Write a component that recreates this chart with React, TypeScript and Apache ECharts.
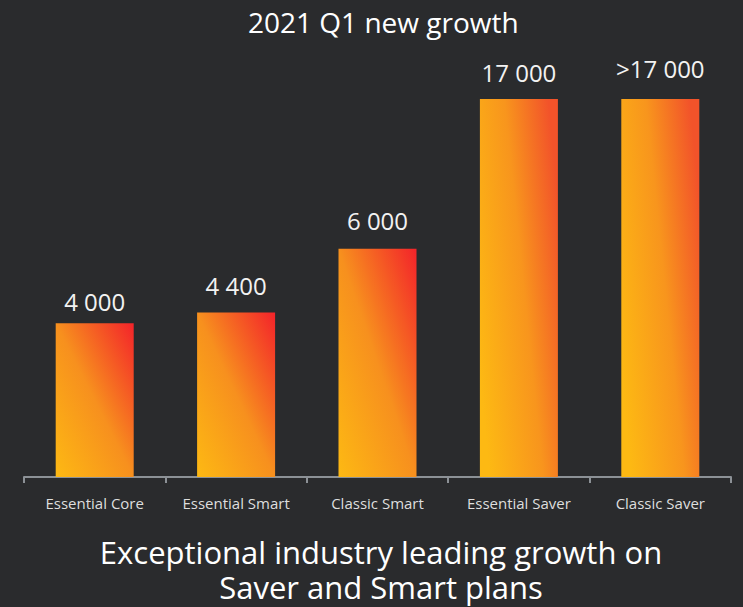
import React, { useEffect, useRef } from "react";
import * as echarts from "echarts";

const categories = ["Essential Core", "Essential Smart", "Classic Smart", "Essential Saver", "Classic Saver"];
// Displayed bar heights (relative, tallest = 100)
const barLevels = [40.7, 43.5, 60.4, 100, 100];
// Value labels shown above the bars
const valueLabels = ["4 000", "4 400", "6 000", "17 000", ">17 000"];
const titleText = "2021 Q1 new growth";
const footerLines = ["Exceptional industry leading growth on", "Saver and Smart plans"];

// style: gap between bar top and its label
const labelGaps = [9.5, 15, 16.5, 15, 18.5];

const FONT = "'Open Sans', 'Noto Sans', sans-serif";

export default function App() {
  const ref = useRef<HTMLDivElement>(null);
  useEffect(() => {
    document.body.style.margin = "0";
    const chart = echarts.init(ref.current!, null, { renderer: "svg" });
    const shortGrad = new echarts.graphic.LinearGradient(0, 1, 1, 0, [
      { offset: 0, color: "#fdb913" },
      { offset: 0.5, color: "#f7901e" },
      { offset: 1, color: "#f3232a" },
    ]);
    const tallGrad = new echarts.graphic.LinearGradient(0, 0.75, 1, 0.25, [
      { offset: 0, color: "#fdb913" },
      { offset: 0.55, color: "#f8951d" },
      { offset: 1, color: "#f2532a" },
    ]);
    chart.setOption({
      animation: false,
      backgroundColor: "#2a2b2d",
      title: {
        text: titleText,
        left: 243,
        top: 3,
        textStyle: { color: "#ffffff", fontFamily: FONT, fontSize: 28, fontWeight: "normal" },
      },
      grid: { left: 24, right: 12, top: 99, bottom: 130, containLabel: false },
      xAxis: {
        type: "category",
        data: categories,
        boundaryGap: true,
        axisLine: { show: true, lineStyle: { color: "#8c9196", width: 2 } },
        axisTick: { show: true, length: 6, lineStyle: { color: "#8c9196", width: 2 } },
        axisLabel: { color: "#dedede", fontFamily: FONT, fontSize: 15, margin: 18, interval: 0 },
      },
      yAxis: {
        type: "value",
        min: 0,
        max: 100,
        show: false,
        splitLine: { show: false },
      },
      series: [
        {
          type: "bar",
          barWidth: 78,
          data: barLevels.map((v, i) => ({
            value: v,
            itemStyle: { color: v >= 100 ? tallGrad : shortGrad },
            label: {
              show: true,
              position: "top",
              distance: labelGaps[i],
              formatter: valueLabels[i],
              color: "#f2f2f2",
              fontFamily: FONT,
              fontSize: 24,
            },
          })),
        },
      ],
      graphic: footerLines.map((line, i) => ({
        type: "text",
        x: 381,
        y: 552 + i * 35,
        style: {
          text: line,
          fill: "#ffffff",
          font: `31px ${FONT}`,
          align: "center",
          verticalAlign: "middle",
        },
      })),
    });
    return () => chart.dispose();
  }, []);
  return <div ref={ref} style={{ width: 743, height: 607 }} />;
}
